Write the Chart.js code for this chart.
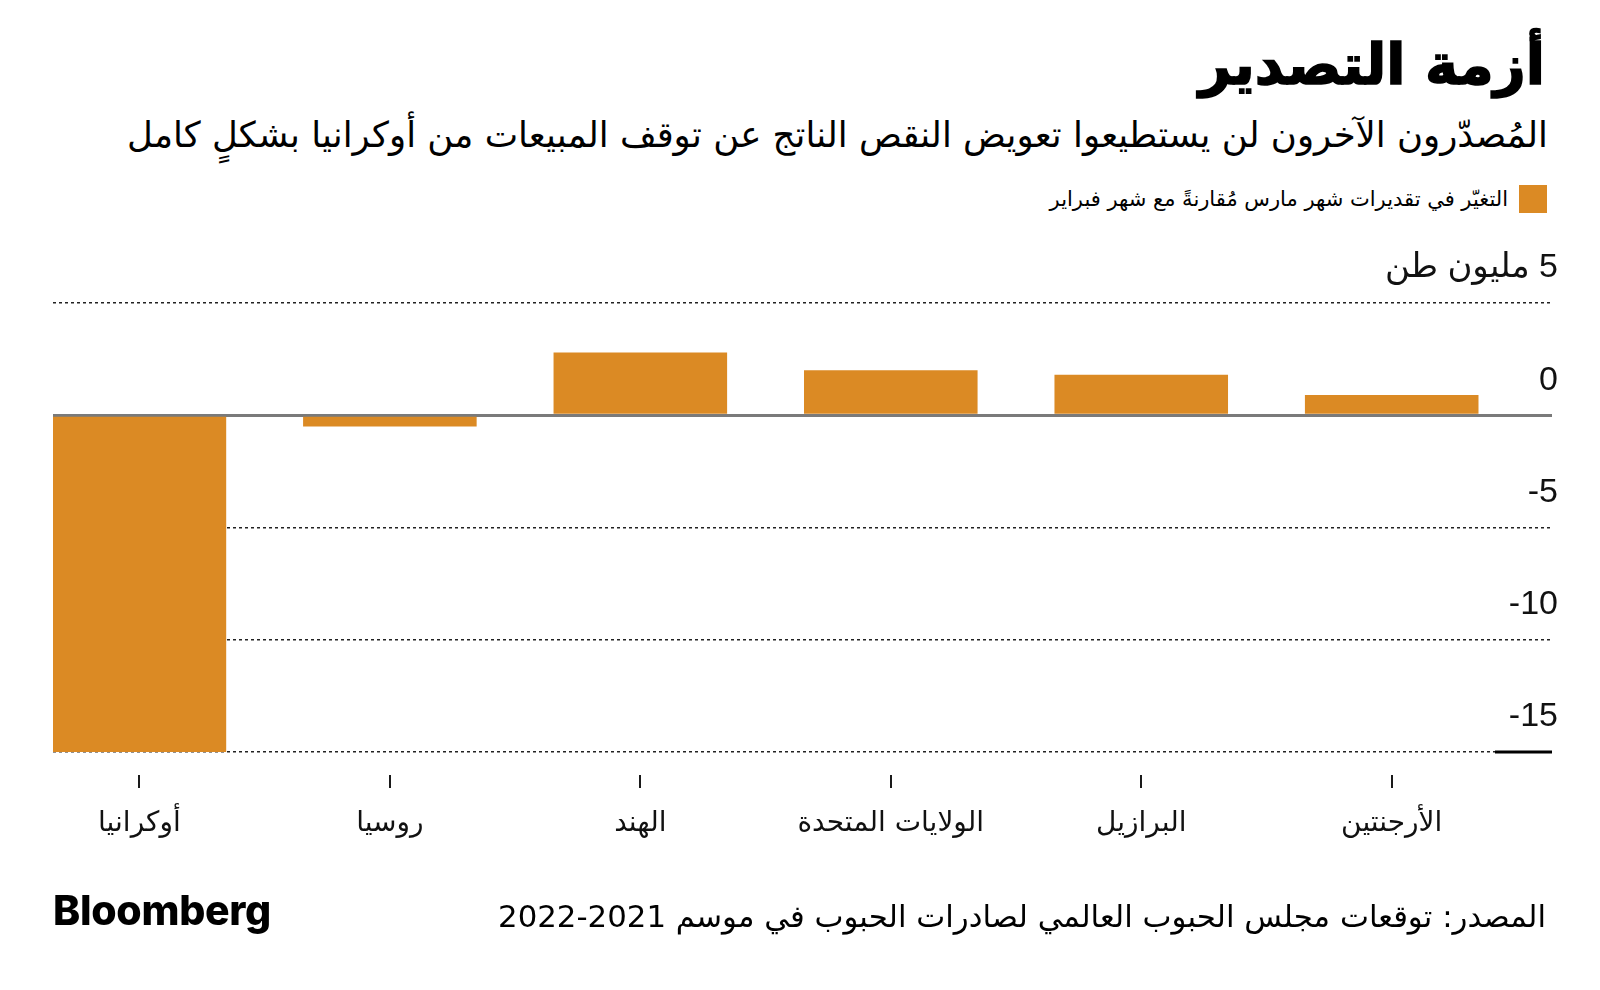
<!DOCTYPE html>
<html lang="ar">
<head>
<meta charset="utf-8">
<script src="https://cdn.jsdelivr.net/npm/chart.js@4.4.1/dist/chart.umd.min.js"></script>
<style>
  html, body { margin: 0; padding: 0; background: #fff; }
  body { width: 1600px; height: 990px; position: relative; overflow: hidden; font-family: "DejaVu Sans", sans-serif; color: #000; }
  #chart { position: absolute; left: 0; top: 0; }
  .rtl { position: absolute; direction: rtl; white-space: nowrap; line-height: 1; }
  #title { right: 55px; top: 37px; font-size: 56px; font-weight: bold; -webkit-text-stroke: 1.6px #000; }
  #subtitle { right: 52px; top: 117px; font-size: 35.5px; }
  #legend { right: 53px; top: 185px; font-size: 21px; display: flex; align-items: center; gap: 11px; }
  #legend .sw { width: 28px; height: 28px; background: #db8a24; }
  #source { right: 54px; top: 901px; font-size: 30.8px; }
  #logo { position: absolute; left: 53px; top: 890px; font-family: "Inter", "Liberation Sans", sans-serif; font-weight: 800; font-size: 41px; letter-spacing: -0.3px; line-height: 1; }
</style>
</head>
<body>
<div id="title" class="rtl">أزمة التصدير</div>
<div id="subtitle" class="rtl">المُصدّرون الآخرون لن يستطيعوا تعويض النقص الناتج عن توقف المبيعات من أوكرانيا بشكلٍ كامل</div>
<div id="legend" class="rtl"><span class="sw"></span><span>التغيّر في تقديرات شهر مارس مُقارنةً مع شهر فبراير</span></div>
<canvas id="chart" width="1600" height="990"></canvas>
<div id="source" class="rtl">المصدر: توقعات مجلس الحبوب العالمي لصادرات الحبوب في موسم 2021&#x200F;-&#x200F;2022</div>
<div id="logo">Bloomberg</div>
<script>
// Données (millions de tonnes)
const countries = ['أوكرانيا', 'روسيا', 'الهند', 'الولايات المتحدة', 'البرازيل', 'الأرجنتين'];
const changes = [-15, -0.5, 2.8, 2.0, 1.8, 0.9];
const yTicks = [5, 0, -5, -10, -15];
const unitLabel = '5 مليون طن';

const barColor = '#db8a24';
const numFont = '"Liberation Sans", "DejaVu Sans", sans-serif';
const arFont = '"DejaVu Sans", sans-serif';

// petits traits sous chaque pays + trait noir à -15
const marksPlugin = {
  id: 'marks',
  afterDraw(chart) {
    const { ctx, chartArea, scales } = chart;
    const x = scales.x, y = scales.y;
    ctx.save();
    ctx.strokeStyle = '#1a1a1a';
    ctx.lineWidth = 2;
    countries.forEach((c, i) => {
      const px = Math.round(x.getPixelForValue(i));
      ctx.beginPath();
      ctx.moveTo(px, chartArea.bottom + 23);
      ctx.lineTo(px, chartArea.bottom + 36);
      ctx.stroke();
    });
    const yb = y.getPixelForValue(yTicks[yTicks.length - 1]);
    ctx.lineWidth = 3;
    ctx.strokeStyle = '#000';
    ctx.beginPath();
    ctx.moveTo(chartArea.right - 57, yb);
    ctx.lineTo(chartArea.right, yb);
    ctx.stroke();
    ctx.restore();
  }
};

const ctx = document.getElementById('chart').getContext('2d');
new Chart(ctx, {
  type: 'bar',
  data: {
    datasets: [{
      data: countries.map((c, i) => ({ x: i, y: changes[i] })),
      backgroundColor: barColor,
      borderWidth: 0,
      barPercentage: 0.693,
      categoryPercentage: 1
    }]
  },
  options: {
    responsive: false,
    animation: false,
    layout: { padding: { top: 303, left: 53, right: 48, bottom: 138 } },
    plugins: { legend: { display: false }, tooltip: { enabled: false } },
    scales: {
      x: {
        type: 'linear',
        offset: false,
        min: -0.345,
        max: 5.64,
        grid: { display: false, offset: false },
        border: { display: false },
        ticks: {
          stepSize: 1,
          includeBounds: false,
          maxRotation: 0,
          autoSkip: false,
          padding: 47,
          color: '#111',
          font: { family: arFont, size: 28 },
          callback: v => Number.isInteger(v) ? countries[v] : ''
        },
        afterFit: s => { s.height = 100; }
      },
      y: {
        position: 'right',
        min: -15,
        max: 5,
        afterBuildTicks: s => { s.ticks = yTicks.map(v => ({ value: v })); },
        ticks: {
          mirror: true,
          padding: 6,
          labelOffset: -35,
          color: '#111',
          font: { family: numFont, size: 34 },
          callback: v => v === 5 ? '\u202B' + unitLabel + '\u202C' : String(v)
        },
        grid: {
          drawTicks: false,
          color: c => c.tick && c.tick.value === 0 ? '#7a7a7a' : '#222',
          lineWidth: c => c.tick && c.tick.value === 0 ? 3 : 1.5
        },
        border: {
          display: false,
          dash: c => c.tick && c.tick.value === 0 ? [] : [3, 3]
        },
        afterFit: s => { s.width = 0; }
      }
    }
  },
  plugins: [marksPlugin]
});
</script>
</body>
</html>
